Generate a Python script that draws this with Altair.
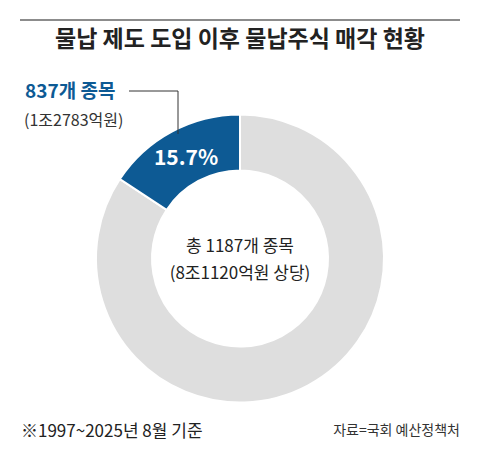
import altair as alt
import pandas as pd

title_text = "물납 제도 도입 이후 물납주식 매각 현황"
segments = ["미매각", "매각"]
shares = [84.3, 15.7]
seg_colors = ["#dedede", "#0d5a94"]
sold_count = "837개 종목"
sold_amount = "(1조2783억원)"
total_count = "총 1187개 종목"
total_amount = "(8조1120억원 상당)"
note = "※1997~2025년 8월 기준"
source = "자료=국회 예산정책처"

W, H = 464, 444
FONT = "Noto Sans CJK KR"

pie_df = pd.DataFrame({"segment": segments, "share": shares, "order": [0, 1]})

arc = alt.Chart(pie_df).mark_arc(
    outerRadius=144, innerRadius=88, stroke="white", strokeWidth=2
).encode(
    theta=alt.Theta("share:Q", stack=True),
    order=alt.Order("order:Q"),
    color=alt.Color("segment:N", scale=alt.Scale(domain=segments, range=seg_colors), legend=None),
    x=alt.value(232),
    y=alt.value(250.5),
)


def txt(text, x, y, size, weight="normal", color="#222222", align="center", font=FONT):
    return alt.Chart(pd.DataFrame({"t": [text]})).mark_text(
        align=align, baseline="middle", fontSize=size, fontWeight=weight,
        color=color, font=font
    ).encode(text="t:N", x=alt.value(x), y=alt.value(y))


def rule(x1, x2, y1, y2, color, w):
    return alt.Chart(pd.DataFrame({"a": [0]})).mark_rule(color=color, strokeWidth=w).encode(
        x=alt.value(x1), x2=alt.value(x2), y=alt.value(y1), y2=alt.value(y2)
    )


layers = [
    rule(12, 452, 12, 12, "#8c8c8c", 2),
    txt(title_text, 232, 32, 23, "bold", "#222222"),
    arc,
    rule(121, 170, 83, 83, "#333333", 1),
    rule(170, 170, 83, 126, "#333333", 1),
    txt(sold_count, 17, 84, 19, "bold", "#0d5a94", "left"),
    txt(sold_amount, 16, 113, 16, "normal", "#333333", "left"),
    txt(f"{shares[1]}%", 178, 151, 21, "bold", "white", "center"),
    txt(total_count, 232, 239, 17, "normal", "#222222", "center"),
    txt(total_amount, 232, 266, 17, "normal", "#222222", "center"),
    txt(note, 13, 424, 17, "normal", "#222222", "left"),
    txt(source, 452, 423, 14, "normal", "#333333", "right"),
]

chart = alt.layer(*layers).properties(
    width=W, height=H, padding=0, autosize=alt.AutoSizeParams(type="none")
).configure_view(stroke=None)

chart.save("out.html", embed_options={"renderer": "svg", "actions": False})
